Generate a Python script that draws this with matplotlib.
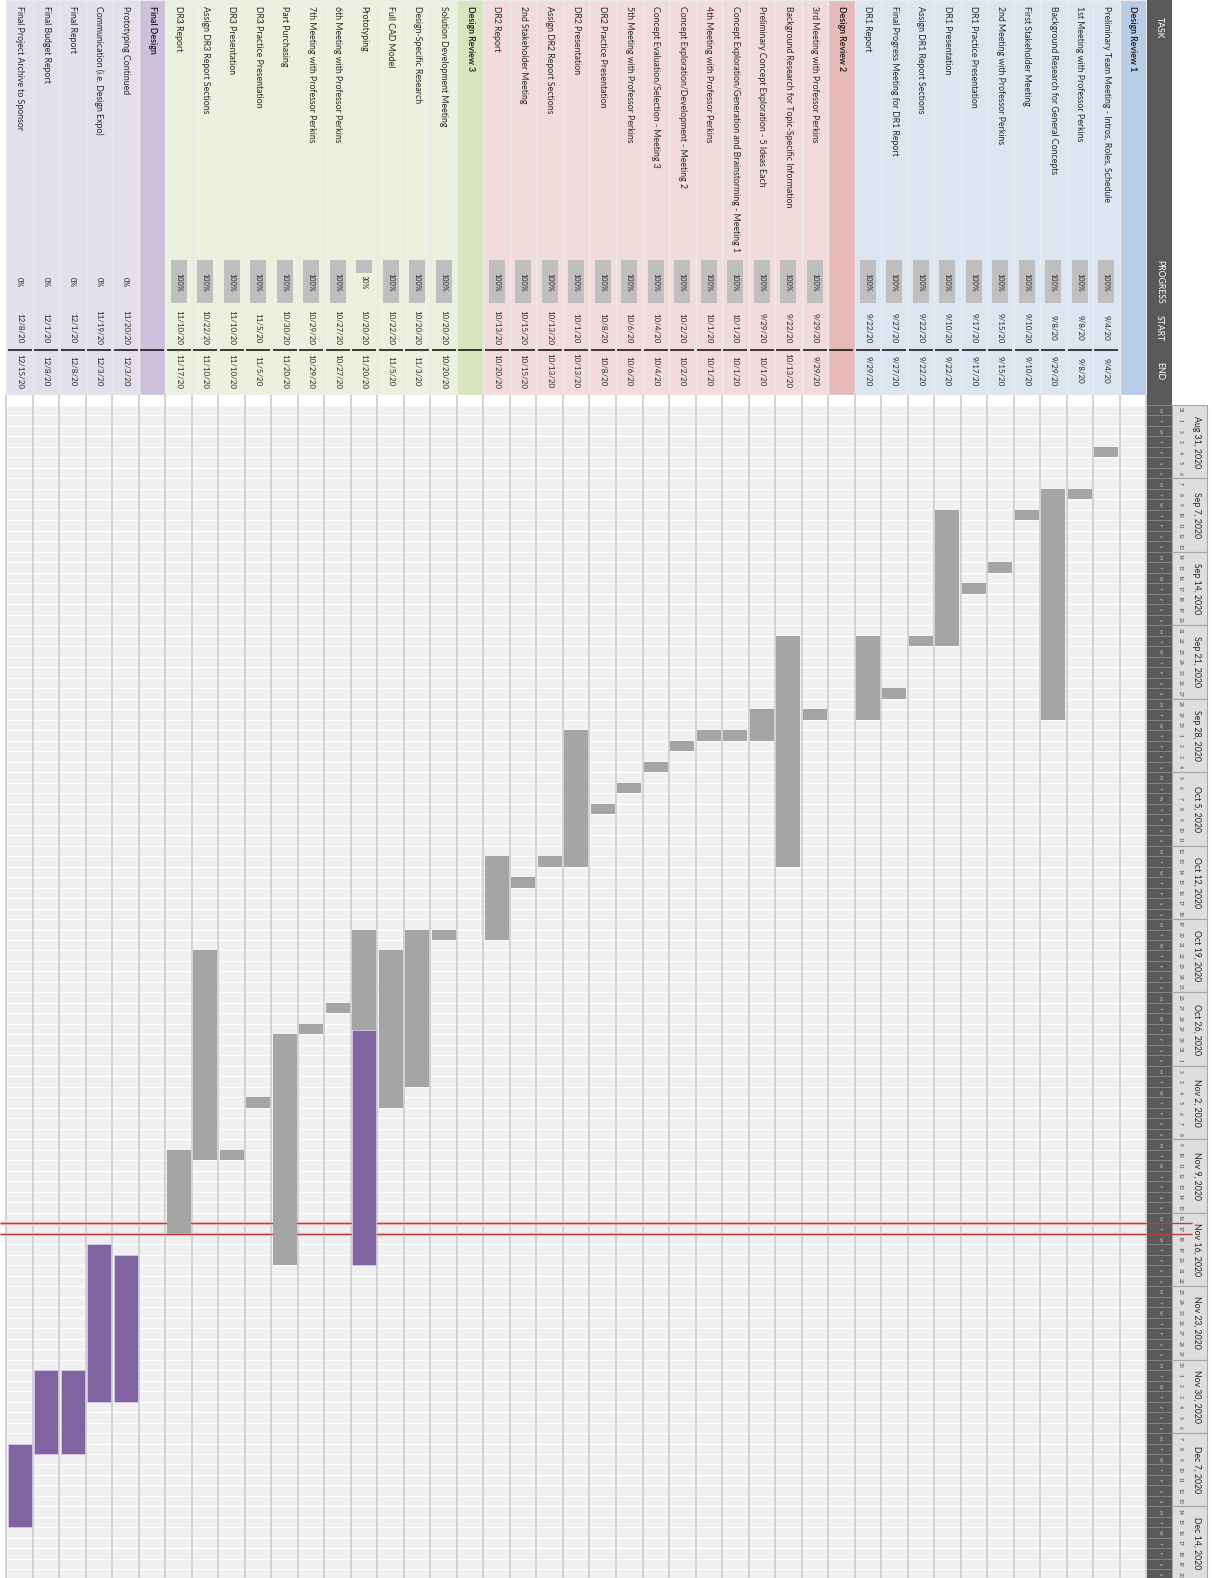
import datetime
import numpy as np
import matplotlib
matplotlib.use("Agg")
import matplotlib.pyplot as plt
import matplotlib.dates as mdates
from matplotlib.patches import Rectangle

plt.rcParams["font.family"] = ["Lato", "DejaVu Sans"]

# ---------------- data ----------------
sections = ["Design Review 1", "Design Review 2", "Design Review 3", "Final Design"]

dr1_tasks = ["Preliminary Team Meeting - Intros, Roles, Schedule",
             "1st Meeting with Professor Perkins",
             "Background Research for General Concepts",
             "First Stakeholder Meeting",
             "2nd Meeting with Professor Perkins",
             "DR1 Practice Presentation",
             "DR1 Presentation",
             "Assign DR1 Report Sections",
             "Final Progress Meeting for DR1 Report",
             "DR1 Report"]
dr1_progress = [100, 100, 100, 100, 100, 100, 100, 100, 100, 100]
dr1_start = ["9/4/20", "9/8/20", "9/8/20", "9/10/20", "9/15/20", "9/17/20",
             "9/10/20", "9/22/20", "9/27/20", "9/22/20"]
dr1_end = ["9/4/20", "9/8/20", "9/29/20", "9/10/20", "9/15/20", "9/17/20",
           "9/22/20", "9/22/20", "9/27/20", "9/29/20"]

dr2_tasks = ["3rd Meeting with Professor Perkins",
             "Background Research for Topic-Specific Information",
             "Preliminary Concept Exploration - 5 Ideas Each",
             "Concept Exploration/Generation and Brainstorming - Meeting 1",
             "4th Meeting with Professor Perkins",
             "Concept Exploration/Development - Meeting 2",
             "Concept Evaluation/Selection - Meeting 3",
             "5th Meeting with Professor Perkins",
             "DR2 Practice Presentation",
             "DR2 Presentation",
             "Assign DR2 Report Sections",
             "2nd Stakeholder Meeting",
             "DR2 Report"]
dr2_progress = [100] * 13
dr2_start = ["9/29/20", "9/22/20", "9/29/20", "10/1/20", "10/1/20", "10/2/20", "10/4/20",
             "10/6/20", "10/8/20", "10/1/20", "10/13/20", "10/15/20", "10/13/20"]
dr2_end = ["9/29/20", "10/13/20", "10/1/20", "10/1/20", "10/1/20", "10/2/20", "10/4/20",
           "10/6/20", "10/8/20", "10/13/20", "10/13/20", "10/15/20", "10/20/20"]

dr3_tasks = ["Solution Development Meeting",
             "Design-Specific Research",
             "Full CAD Model",
             "Prototyping",
             "6th Meeting with Professor Perkins",
             "7th Meeting with Professor Perkins",
             "Part Purchasing",
             "DR3 Practice Presentation",
             "DR3 Presentation",
             "Assign DR3 Report Sections",
             "DR3 Report"]
dr3_progress = [100, 100, 100, 30, 100, 100, 100, 100, 100, 100, 100]
dr3_start = ["10/20/20", "10/20/20", "10/22/20", "10/20/20", "10/27/20", "10/29/20",
             "10/30/20", "11/5/20", "11/10/20", "10/22/20", "11/10/20"]
dr3_end = ["10/20/20", "11/3/20", "11/5/20", "11/20/20", "10/27/20", "10/29/20",
           "11/20/20", "11/5/20", "11/10/20", "11/10/20", "11/17/20"]

fd_tasks = ["Prototyping Continued",
            "Communication (i.e. Design Expo)",
            "Final Report",
            "Final Budget Report",
            "Final Project Archive to Sponsor"]
fd_progress = [0, 0, 0, 0, 0]
fd_start = ["11/20/20", "11/19/20", "12/1/20", "12/1/20", "12/8/20"]
fd_end = ["12/3/20", "12/3/20", "12/8/20", "12/8/20", "12/15/20"]

week_labels = ["Aug 31, 2020", "Sep 7, 2020", "Sep 14, 2020", "Sep 21, 2020",
               "Sep 28, 2020", "Oct 5, 2020", "Oct 12, 2020", "Oct 19, 2020",
               "Oct 26, 2020", "Nov 2, 2020", "Nov 9, 2020", "Nov 16, 2020",
               "Nov 23, 2020", "Nov 30, 2020", "Dec 7, 2020", "Dec 14, 2020"]
day_letters = ["M", "T", "W", "T", "F", "S", "S"]
today_str = "11/17/20"
header_labels = ["TASK", "PROGRESS", "START", "END"]

# ---------------- styles ----------------
sec_light = ["#dce6f1", "#f2dcdb", "#ebf1de", "#e4dfec"]
sec_head = ["#b8cce4", "#e6b8b7", "#d7e4bc", "#ccc0da"]
DONE = "#a5a5a5"
TODO = "#8064a2"
DARK = "#595959"
TXT = "#262626"


def pdate(s):
    m, d, y = s.split("/")
    return mdates.date2num(datetime.date(2000 + int(y), int(m), int(d)))


# assemble rows
rows = []
all_tasks = [dr1_tasks, dr2_tasks, dr3_tasks, fd_tasks]
all_prog = [dr1_progress, dr2_progress, dr3_progress, fd_progress]
all_start = [dr1_start, dr2_start, dr3_start, fd_start]
all_end = [dr1_end, dr2_end, dr3_end, fd_end]
for si, sec in enumerate(sections):
    rows.append(dict(label=sec, head=True, sec=si))
    for t, p, s, e in zip(all_tasks[si], all_prog[si], all_start[si], all_end[si]):
        rows.append(dict(label=t, head=False, sec=si, prog=p, s=s, e=e))
n_rows = len(rows)

# ---------------- layout ----------------
W_PX, H_PX = 1214, 1578
ROW_W = 26.5
ROW0_RIGHT = 1146


def px_to_row(px):
    return (ROW0_RIGHT - px) / ROW_W - 0.5


XL = (px_to_row(0), px_to_row(W_PX))
TAB_H = 395
DAY_PX = 10.49
DAY0_PX = 405

fig = plt.figure(figsize=(W_PX / 100, H_PX / 100), dpi=100)
ax_tab = fig.add_axes([0, 1 - TAB_H / H_PX, 1, TAB_H / H_PX])
ax_tab.set_xlim(*XL)
ax_tab.set_ylim(TAB_H, 0)
ax_tab.axis("off")

t0 = mdates.date2num(datetime.date(2020, 8, 31))
ax_tl = fig.add_axes([0, 0, 1, 1 - TAB_H / H_PX])
ax_tl.set_xlim(*XL)
ax_tl.set_ylim(t0 + (H_PX - DAY0_PX) / DAY_PX, t0 - (DAY0_PX - TAB_H) / DAY_PX)
ax_tl.axis("off")
n_days = len(week_labels) * 7
t_end = t0 + n_days
y_top = ax_tl.get_ylim()[1]

dark_l, dark_r = px_to_row(1147), px_to_row(1172)
wk_r = px_to_row(1207)

# ---------------- table area ----------------
for i, r in enumerate(rows):
    col = sec_head[r["sec"]] if r["head"] else sec_light[r["sec"]]
    ax_tab.add_patch(Rectangle((i - 0.5, 0), 1, TAB_H, facecolor=col,
                               edgecolor="#eaeaea", lw=1.0))
    ax_tab.text(i, 6, r["label"], rotation=-90, ha="center", va="top",
                fontsize=6.3, color=TXT, fontweight="bold" if r["head"] else "normal")
    if i > 0:
        ax_tab.plot([i - 0.45, i + 0.45], [350, 350], color="#1a1a1a", lw=1.2,
                    solid_capstyle="butt")
    if not r["head"]:
        p = r["prog"]
        if p > 0:
            ax_tab.add_patch(Rectangle((i - 0.3, 260), 0.6, 43 * p / 100,
                                       facecolor="#bfbfbf", edgecolor="none"))
        ax_tab.text(i, 282, f"{p}%", rotation=-90, ha="center", va="center",
                    fontsize=5.3, color=TXT)
        ax_tab.text(i, 328, r["s"], rotation=-90, ha="center", va="center",
                    fontsize=5.8, color=TXT)
        ax_tab.text(i, 371, r["e"], rotation=-90, ha="center", va="center",
                    fontsize=5.8, color=TXT)

# dark header column
ax_tab.add_patch(Rectangle((dark_l, 0), dark_r - dark_l, TAB_H, facecolor=DARK,
                           edgecolor="none"))
hx = (dark_l + dark_r) / 2
for lab, yy in zip(header_labels, [28, 282, 328, 371]):
    ax_tab.text(hx, yy, lab, rotation=-90, ha="center", va="center",
                fontsize=6.3, color="white")

# ---------------- timeline ----------------
for i in range(n_rows):
    ax_tl.add_patch(Rectangle((i - 0.5, t0), 1, n_days, facecolor="#f0f0f0",
                              edgecolor="none", zorder=1))
ax_tl.hlines(t0 + np.arange(n_days + 1), -0.5, XL[0], color="white", lw=1.0, zorder=1.5)
ax_tl.vlines(np.arange(n_rows + 1) - 0.5, y_top, t_end,
             color="#d2d2d2", lw=1.4, zorder=1.6)

# today marker (beneath the bars)
today = pdate(today_str)
ax_tl.hlines([today, today + 1], px_to_row(1192), XL[0], color="#f7c9c9", lw=2.4, zorder=2)
ax_tl.hlines([today, today + 1], px_to_row(1192), XL[0], color="#b5403c", lw=1.0, zorder=2.1)

# bars
for i, r in enumerate(rows):
    if r["head"]:
        continue
    s = pdate(r["s"])
    e = pdate(r["e"]) + 1
    dur = e - s
    done = dur * r["prog"] / 100
    if done > 0:
        ax_tl.bar(i, done, bottom=s, width=0.9, color=DONE, edgecolor="none", zorder=3)
    if dur - done > 0:
        ax_tl.bar(i, dur - done, bottom=s + done, width=0.9, color=TODO,
                  edgecolor="#d9ccea", lw=0.5, zorder=3)

# dark day band with letters
ax_tl.add_patch(Rectangle((dark_l, y_top), dark_r - dark_l, t_end - y_top,
                          facecolor=DARK, edgecolor="none", zorder=4))
ax_tl.hlines(t0 + np.arange(n_days + 1), dark_l, dark_r, color="#8a8a8a", lw=0.6, zorder=4.1)
for d in range(n_days):
    ax_tl.text(hx, t0 + d + 0.5, day_letters[d % 7], rotation=-90, ha="center",
               va="center", fontsize=3.2, color="#d8d8d8", zorder=4.2)

# week boxes with day numbers
dn_x = px_to_row(1180)
wl_x = px_to_row(1197)
for w, lab in enumerate(week_labels):
    ws = t0 + 7 * w
    ax_tl.add_patch(Rectangle((dark_r, ws), wk_r - dark_r, 7, facecolor="#dedede",
                              edgecolor="#a6a6a6", lw=0.8, zorder=4))
    ax_tl.text(wl_x, ws + 3.5, lab, rotation=-90, ha="center", va="center",
               fontsize=6.3, color=TXT, zorder=4.2)
    for d in range(7):
        dn = mdates.num2date(ws + d).day
        ax_tl.text(dn_x, ws + d + 0.5, str(dn), rotation=-90, ha="center",
                   va="center", fontsize=3.6, color="#404040", zorder=4.2)

# red marker continues across the date header
ax_tl.hlines([today, today + 1], dark_l, px_to_row(1192), color="#b5403c", lw=1.0, zorder=4.3)

fig.savefig("out.png", dpi=100, facecolor="white")
